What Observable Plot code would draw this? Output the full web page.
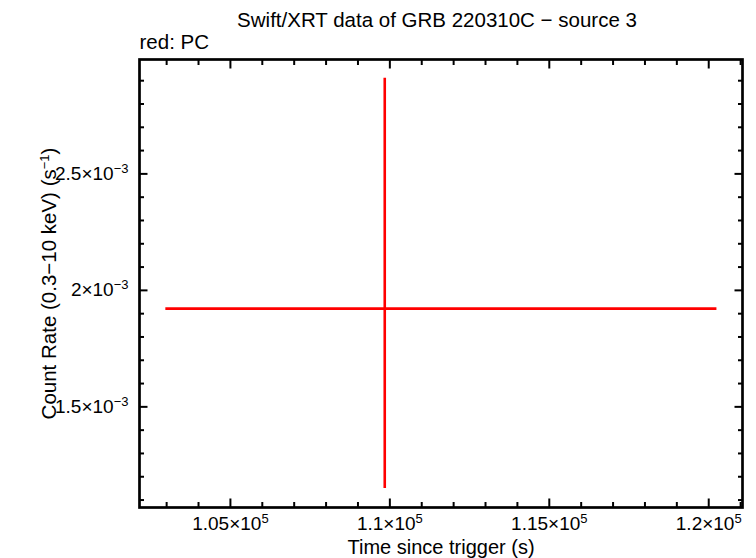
<!DOCTYPE html>
<html>
<head>
<meta charset="utf-8">
<script src="https://cdn.jsdelivr.net/npm/d3@7"></script>
<script src="https://cdn.jsdelivr.net/npm/@observablehq/plot@0.6"></script>
<style>
  html, body { margin: 0; padding: 0; background: #fff; }
  #chart svg { font-family: "Liberation Sans", Arial, Helvetica, sans-serif; display: block; }
</style>
</head>
<body>
<div id="chart"></div>
<script>
// ---- Texts ----
const title = "Swift/XRT data of GRB 220310C \u2212 source 3";
const subtitle = "red: PC";
const xLabel = "Time since trigger (s)";
const yLabel = "Count Rate (0.3\u221210 keV) (s^{\u22121})";

// ---- Data (PC mode, one bin) ----
const time   = [109840];
const timeLo = [102975];
const timeHi = [120257];
const rate   = [1.9216e-3];
const rateLo = [1.150e-3];
const rateHi = [2.911e-3];

// ---- Axes ----
const xDomain = [102149, 121059];
const yDomain = [1.068e-3, 2.991e-3];
const xMajor = [105000, 110000, 115000, 120000];
const xMajorLabels = ["1.05\u00d710^{5}", "1.1\u00d710^{5}", "1.15\u00d710^{5}", "1.2\u00d710^{5}"];
const xMinor = [103000, 104000, 106000, 107000, 108000, 109000, 111000, 112000, 113000, 114000,
                116000, 117000, 118000, 119000, 121000];
const yMajor = [1.5e-3, 2.0e-3, 2.5e-3];
const yMajorLabels = ["1.5\u00d710^{\u22123}", "2\u00d710^{\u22123}", "2.5\u00d710^{\u22123}"];
const yMinor = [1.1e-3, 1.2e-3, 1.3e-3, 1.4e-3, 1.6e-3, 1.7e-3, 1.8e-3, 1.9e-3,
                2.1e-3, 2.2e-3, 2.3e-3, 2.4e-3, 2.6e-3, 2.7e-3, 2.8e-3, 2.9e-3];

const points = time.map((t, i) => ({t, tLo: timeLo[i], tHi: timeHi[i], r: rate[i], rLo: rateLo[i], rHi: rateHi[i]}));

const red = "#ff0000";
const fs = 20.5;
const tfs = 19;
const tickW = 2;
const majorLen = 8.5, minorLen = 5;

const tickMarks = [];
for (const anchor of ["bottom", "top"]) {
  tickMarks.push(Plot.axisX(xMajor, {anchor, tickSize: -majorLen, strokeWidth: tickW, tickFormat: () => "", label: null}));
  tickMarks.push(Plot.axisX(xMinor, {anchor, tickSize: -minorLen, strokeWidth: tickW, tickFormat: () => "", label: null}));
}
for (const anchor of ["left", "right"]) {
  tickMarks.push(Plot.axisY(yMajor, {anchor, tickSize: -majorLen, strokeWidth: tickW, tickFormat: () => "", label: null}));
  tickMarks.push(Plot.axisY(yMinor, {anchor, tickSize: -minorLen, strokeWidth: tickW, tickFormat: () => "", label: null}));
}

const plot = Plot.plot({
  width: 756,
  height: 558,
  marginLeft: 139,
  marginRight: 14,
  marginTop: 59,
  marginBottom: 51,
  style: {fontFamily: '"Liberation Sans", Arial, Helvetica, sans-serif', background: "#fff", color: "#000"},
  x: {domain: xDomain, axis: null},
  y: {domain: yDomain, axis: null},
  marks: [
    ...tickMarks,
    Plot.axisX(xMajor, {anchor: "bottom", tickSize: 0, tickPadding: 9, fontSize: tfs,
      tickFormat: (d, i) => xMajorLabels[i], label: null}),
    Plot.axisY(yMajor, {anchor: "left", tickSize: 0, tickPadding: 11, fontSize: tfs,
      tickFormat: (d, i) => yMajorLabels[i], label: null}),
    Plot.ruleY(points, {y: "r", x1: "tLo", x2: "tHi", stroke: red, strokeWidth: 2.6}),
    Plot.ruleX(points, {x: "t", y1: "rLo", y2: "rHi", stroke: red, strokeWidth: 2.6}),
    Plot.frame({stroke: "#000", strokeWidth: 2.7}),
    Plot.text([title], {frameAnchor: "top", dx: -4, dy: -33, lineAnchor: "bottom", fontSize: fs, fill: "#000"}),
    Plot.text([subtitle], {frameAnchor: "top-left", textAnchor: "start", dy: -11, lineAnchor: "bottom", fontSize: fs, fill: "#000"}),
    Plot.text([xLabel], {frameAnchor: "bottom", textAnchor: "middle", dy: 46, lineAnchor: "bottom", fontSize: 20, fill: "#000"}),
    Plot.text([yLabel], {frameAnchor: "left", textAnchor: "middle", rotate: -90, dx: -84, lineAnchor: "bottom", fontSize: fs, fill: "#000"})
  ]
});

// superscripts: turn "^{...}" into raised tspans
d3.select(plot).selectAll("text").each(function () {
  const t = this.textContent;
  if (!t.includes("^{")) return;
  const parts = t.split(/(\^\{[^}]*\})/);
  const sel = d3.select(this);
  sel.text(null);
  let raised = false;
  for (const p of parts) {
    if (!p) continue;
    const m = p.match(/^\^\{([^}]*)\}$/);
    if (m) {
      sel.append("tspan").attr("dy", -7).attr("font-size", 13).text(m[1]);
      raised = true;
    } else {
      const ts = sel.append("tspan").text(p);
      if (raised) { ts.attr("dy", 7); raised = false; }
    }
  }
});

document.getElementById("chart").appendChild(plot);
</script>
</body>
</html>
